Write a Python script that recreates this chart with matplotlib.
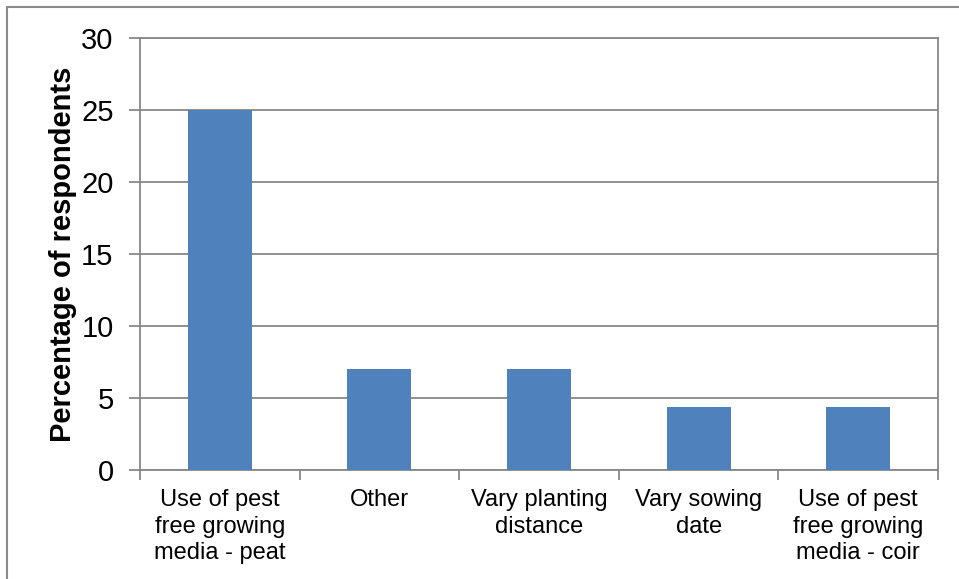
import matplotlib.pyplot as plt
from matplotlib.patches import Rectangle

categories = ["Use of pest\nfree growing\nmedia - peat", "Other", "Vary planting\ndistance",
              "Vary sowing\ndate", "Use of pest\nfree growing\nmedia - coir"]
values = [25, 7, 7, 4.35, 4.35]
y_ticks = [0, 5, 10, 15, 20, 25, 30]

plt.rcParams['font.family'] = ['Liberation Sans', 'DejaVu Sans']

fig = plt.figure(figsize=(9.59, 5.79), dpi=100)
ax = fig.add_axes([140 / 959, 1 - 470 / 579, 798 / 959, 432 / 579])

grid_col = '#878787'
x = list(range(len(categories)))
ax.bar(x, values, width=0.4, color='#4F81BD', zorder=3)

ax.set_xlim(-0.5, len(categories) - 0.5)
ax.set_ylim(0, 30)
ax.set_yticks(y_ticks)
ax.set_yticklabels([str(t) for t in y_ticks], fontsize=21)
ax.yaxis.grid(True, color=grid_col, linewidth=1.3, zorder=0)

ax.set_xticks([i - 0.5 for i in range(len(categories) + 1)])
ax.set_xticklabels([])
ax.set_xticks(x, minor=True)
ax.set_xticklabels(categories, minor=True, fontsize=17, linespacing=1.25)
ax.tick_params(axis='x', which='minor', length=0, pad=14)
ax.tick_params(axis='x', which='major', length=7, width=1.3, color=grid_col)
ax.tick_params(axis='y', length=8, width=1.3, color=grid_col, pad=11)

for s in ax.spines.values():
    s.set_color(grid_col)
    s.set_linewidth(1.3)

ax.set_ylabel("Percentage of respondents", fontsize=21, fontweight='bold', labelpad=3)

# outer chart frame (only left/top edges fall inside the image)
fig.patches.append(Rectangle((7 / 959, -0.1), 1.2, 1 - 7 / 579 + 0.1, transform=fig.transFigure,
                             fill=False, edgecolor='#8c8c8c', linewidth=1.5))

fig.savefig("out.png", dpi=100)
